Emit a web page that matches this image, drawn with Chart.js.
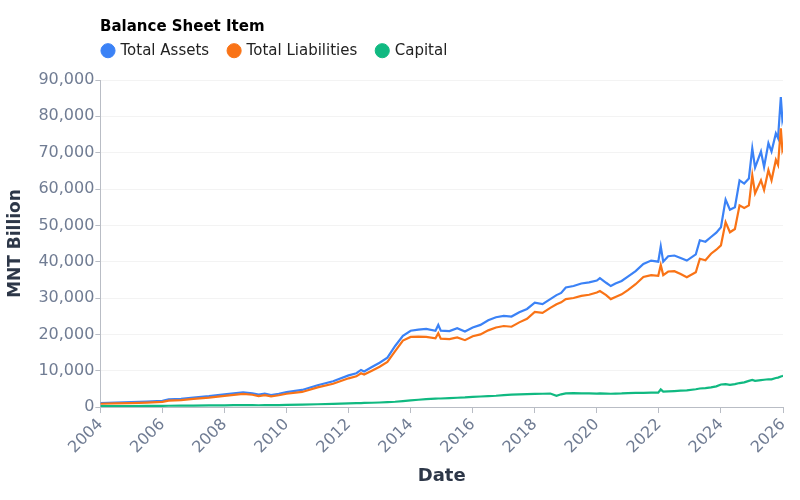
<!DOCTYPE html>
<html>
<head>
<meta charset="utf-8">
<script src="https://cdn.jsdelivr.net/npm/chart.js@4.4.1/dist/chart.umd.min.js"></script>
<style>
  html, body { margin: 0; padding: 0; background: #ffffff; }
  #wrap { width: 800px; height: 500px; position: relative; }
</style>
</head>
<body>
<div id="wrap"><canvas id="chart"></canvas></div>
<script>
// ---- Data (MNT billion) ----
const dates = [
  2004.0, 2004.5, 2005.0, 2005.5, 2006.0, 2006.2, 2006.6, 2007.0, 2007.5, 2008.0,
  2008.3, 2008.6, 2008.9, 2009.1, 2009.3, 2009.5, 2009.75, 2010.0, 2010.5, 2011.0,
  2011.5, 2012.0, 2012.25, 2012.4, 2012.5, 2012.75, 2013.0, 2013.25, 2013.5, 2013.75,
  2014.0, 2014.25, 2014.5, 2014.8, 2014.89, 2014.97, 2015.25, 2015.5, 2015.75, 2016.0,
  2016.25, 2016.5, 2016.75, 2017.0, 2017.25, 2017.5, 2017.75, 2018.0, 2018.25, 2018.5,
  2018.7, 2018.85, 2019.0, 2019.25, 2019.5, 2019.75, 2020.0, 2020.1, 2020.3, 2020.45,
  2020.6, 2020.8, 2021.0, 2021.25, 2021.5, 2021.75, 2021.98, 2022.06, 2022.14, 2022.3,
  2022.5, 2022.7, 2022.9, 2023.19, 2023.32, 2023.5, 2023.68, 2023.85, 2024.0, 2024.15,
  2024.29, 2024.45, 2024.6, 2024.75, 2024.9, 2025.01, 2025.1, 2025.29, 2025.39, 2025.53,
  2025.63, 2025.77, 2025.84, 2025.93, 2025.98, 2026.0
];
const totalAssets = [
  1100, 1200, 1350, 1500, 1700, 2100, 2250, 2600, 3000, 3500,
  3800, 4050, 3800, 3400, 3700, 3300, 3650, 4100, 4700, 6000,
  7100, 8700, 9300, 10200, 9800, 11000, 12200, 13600, 16800, 19600,
  21000, 21300, 21500, 21000, 22600, 21000, 20900, 21700, 20800, 21900,
  22600, 23900, 24700, 25100, 24900, 26100, 27000, 28700, 28300, 29700,
  30800, 31400, 32900, 33300, 34000, 34300, 34800, 35500, 34200, 33300,
  34000, 34700, 35900, 37400, 39400, 40300, 40000, 44200, 40000, 41500,
  41700, 41000, 40300, 42000, 45900, 45500, 46800, 48000, 49500, 57100,
  54300, 55000, 62400, 61500, 62900, 71200, 65900, 70300, 66100, 72600,
  70300, 75300, 74000, 85300, 79000, 79700
];
const totalLiabilities = [
  900, 980, 1100, 1230, 1420, 1780, 1900, 2230, 2600, 3080,
  3350, 3600, 3380, 3000, 3250, 2950, 3250, 3650, 4150, 5400,
  6400, 7900, 8450, 9300, 8950, 10000, 11100, 12400, 15400, 18300,
  19300, 19400, 19300, 18900, 20300, 18800, 18700, 19150, 18400, 19500,
  20000, 21100, 21900, 22300, 22100, 23300, 24300, 26200, 25900, 27300,
  28300, 28800, 29700, 30000, 30600, 30900, 31500, 31900, 30800, 29700,
  30300, 31000, 32200, 33800, 35800, 36300, 36100, 39100, 36300, 37300,
  37400, 36600, 35700, 37100, 40800, 40400, 42200, 43300, 44500, 50900,
  48100, 49000, 55500, 54800, 55500, 63800, 58800, 62400, 59700, 65200,
  62400, 68000, 66600, 76700, 70700, 71200
];
const capital = [
  250, 270, 290, 310, 330, 350, 370, 400, 440, 480,
  500, 520, 510, 490, 500, 510, 540, 600, 680, 760,
  850, 1000, 1050, 1100, 1120, 1180, 1250, 1330, 1450, 1650,
  1850, 2000, 2150, 2300, 2350, 2350, 2450, 2550, 2650, 2800,
  2900, 3000, 3100, 3300, 3400, 3500, 3550, 3600, 3650, 3700,
  3100, 3500, 3750, 3800, 3780, 3750, 3700, 3750, 3700, 3650,
  3700, 3750, 3850, 3900, 3920, 3950, 3950, 4850, 4250, 4300,
  4400, 4500, 4600, 4900, 5100, 5200, 5400, 5700, 6200, 6300,
  6100, 6300, 6600, 6800, 7200, 7450, 7200, 7400, 7500, 7650,
  7600, 8000, 8100, 8400, 8550, 8650
];
const seriesNames = ['Total Assets', 'Total Liabilities', 'Capital'];
const yearTicks = [2004, 2006, 2008, 2010, 2012, 2014, 2016, 2018, 2020, 2022, 2024, 2026];
const valueTicks = [0, 10000, 20000, 30000, 40000, 50000, 60000, 70000, 80000, 90000];

// ---- Build ----
const toPoints = arr => dates.map((d, i) => ({ x: d, y: arr[i] }));
const FONT = "'DejaVu Sans', sans-serif";
const TICK_COLOR = '#707c93';
const AXIS_COLOR = '#b9bdc5';

const placeHeader = {
  id: 'placeHeader',
  afterLayout(chart) {
    if (chart.titleBlock) { chart.titleBlock.left = 100; chart.titleBlock.top = 18.5; }
    if (chart.legend) { chart.legend.left = 83; chart.legend.top = 23.2; }
  }
};

new Chart(document.getElementById('chart'), {
  type: 'line',
  data: {
    datasets: [
      { label: seriesNames[0], data: toPoints(totalAssets), borderColor: '#3b82f6', backgroundColor: '#3b82f6', order: 3 },
      { label: seriesNames[1], data: toPoints(totalLiabilities), borderColor: '#f97316', backgroundColor: '#f97316', order: 2 },
      { label: seriesNames[2], data: toPoints(capital), borderColor: '#10b981', backgroundColor: '#10b981', order: 1 }
    ]
  },
  options: {
    responsive: true,
    maintainAspectRatio: false,
    animation: false,
    elements: {
      point: { radius: 0, hoverRadius: 0 },
      line: { borderWidth: 2.2, tension: 0, fill: false }
    },
    layout: { padding: { top: 17, right: 17, bottom: 13, left: 5 } },
    plugins: {
      title: {
        display: true,
        text: 'Balance Sheet Item',
        align: 'start',
        color: '#000000',
        font: { family: FONT, size: 15, weight: 'bold' },
        padding: { top: 0, bottom: 0 }
      },
      legend: {
        display: true,
        position: 'top',
        align: 'start',
        labels: {
          usePointStyle: true,
          pointStyle: 'circle',
          boxWidth: 10,
          boxHeight: 10,
          padding: 20,
          color: '#222222',
          font: { family: FONT, size: 15 },
          sort: (a, b) => a.datasetIndex - b.datasetIndex
        }
      },
      tooltip: { enabled: false }
    },
    scales: {
      x: {
        type: 'linear',
        min: 2004,
        max: 2026,
        afterBuildTicks: scale => { scale.ticks = yearTicks.map(v => ({ value: v })); },
        ticks: {
          autoSkip: false,
          maxRotation: 45,
          minRotation: 45,
          padding: 2,
          color: TICK_COLOR,
          font: { family: FONT, size: 16 },
          callback: v => String(v)
        },
        grid: { drawOnChartArea: false, drawTicks: true, tickLength: 6, tickColor: AXIS_COLOR, color: AXIS_COLOR },
        border: { display: true, color: AXIS_COLOR, width: 1 },
        title: {
          display: true,
          text: 'Date',
          color: '#2d3748',
          font: { family: FONT, size: 18, weight: 'bold' },
          padding: { top: 6, bottom: 0 }
        }
      },
      y: {
        type: 'linear',
        min: 0,
        max: 90000,
        afterBuildTicks: scale => { scale.ticks = valueTicks.map(v => ({ value: v })); },
        ticks: {
          padding: 1,
          color: TICK_COLOR,
          font: { family: FONT, size: 16 },
          callback: v => Number(v).toLocaleString('en-US')
        },
        grid: { color: '#f3f3f3', lineWidth: 1, drawTicks: true, tickLength: 5, tickColor: AXIS_COLOR },
        border: { display: true, color: AXIS_COLOR, width: 1 },
        title: {
          display: true,
          text: 'MNT Billion',
          color: '#2d3748',
          font: { family: FONT, size: 17, weight: 'bold' },
          padding: { top: 0, bottom: 12 }
        }
      }
    }
  },
  plugins: [placeHeader]
});
</script>
</body>
</html>
